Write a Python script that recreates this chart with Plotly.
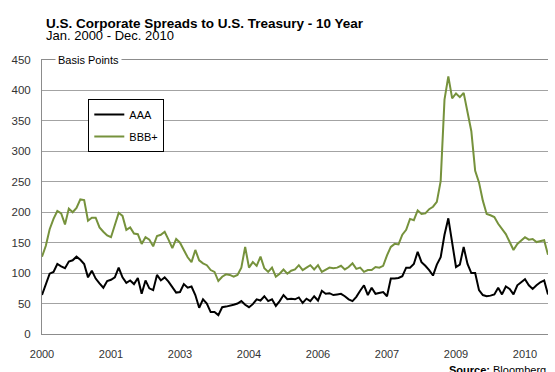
import plotly.graph_objects as go

# Chart text
title = "U.S. Corporate Spreads to U.S. Treasury - 10 Year"
subtitle = "Jan. 2000 - Dec. 2010"
unit_label = "Basis Points"
source_note = "<b>Source:</b> Bloomberg"

# X-axis labels, one every 18 monthly observations
tick_labels = ["2000", "2001", "2003", "2004", "2006", "2007", "2009", "2010"]
months_per_tick = 18

# Monthly spreads (basis points)
aaa = [
    64, 83, 99, 102, 115, 111, 108, 119, 121, 127, 122, 115, 93, 104, 91, 83,
    76, 87, 89, 93, 109, 93, 84, 88, 82, 92, 66, 88,
    75, 72, 97, 88, 93, 86, 77, 68, 69, 82, 76, 78, 64, 43, 57, 50, 36, 36,
    31, 44, 45, 46, 48, 50, 54, 48,
    44, 49, 57, 55, 62, 54, 57, 46, 54, 64, 57, 58, 57, 60, 51, 58, 54, 62,
    55, 71, 66, 67, 64, 65, 66, 62, 57,
    54, 61, 71, 80, 64, 76, 66, 67, 69, 62, 91, 91, 92, 95, 109, 109, 115,
    135, 118, 112, 105, 96, 114, 126,
    163, 190,
    151, 110, 114, 143, 115, 100, 100, 72, 64, 62, 63, 65, 76, 65, 78, 74,
    65, 80, 85, 90, 80, 74, 80, 85, 88, 65,
]
bbb = [
    127, 145, 172, 189, 202, 198, 180, 206, 200, 207, 221, 220, 186, 191,
    191, 175, 168, 162, 159, 178, 199, 194, 171, 175, 165, 164, 148, 159,
    155, 144, 161, 163, 168, 155, 141, 156, 150, 138, 126, 118, 138, 121,
    116, 113, 105, 102, 87, 94, 98, 97, 94, 97, 109, 143,
    109, 118, 112, 127, 108, 102, 109, 94, 99, 106, 99, 104, 106, 113, 105,
    109, 113, 106, 113, 102, 106, 109, 108, 109, 112, 106, 110,
    116, 107, 109, 102, 105, 105, 110, 109, 112, 129, 143, 148, 147, 163,
    171, 189, 187, 203, 197, 198, 205, 209, 217, 251,
    385, 423,
    387, 395, 389, 396, 366, 333, 268, 249, 219, 197, 195, 192, 181, 173,
    164, 151, 138, 148, 154, 159, 155, 156, 151, 153, 154, 130,
]

months = list(range(len(aaa)))
tick_positions = [i * months_per_tick for i in range(len(tick_labels))]

FONT = "Liberation Sans, Arial, sans-serif"
GRID = "#a3a3a3"
AXIS = "#8c8c8c"

fig = go.Figure()
fig.add_trace(go.Scatter(x=months, y=aaa, name="AAA", mode="lines",
                         legendgroup="aaa",
                         line=dict(color="#000000", width=2)))
fig.add_trace(go.Scatter(x=months, y=bbb, name="BBB+", mode="lines",
                         legendgroup="bbb",
                         line=dict(color="#76923C", width=2)))

fig.update_layout(
    width=555, height=372,
    margin=dict(l=42, r=7, t=60, b=38),
    paper_bgcolor="white", plot_bgcolor="white",
    font=dict(family=FONT, size=11, color="#333333"),
    showlegend=True,
    legend=dict(x=0.0915, y=0.858, xanchor="left", yanchor="top",
                bgcolor="white", bordercolor="#000000", borderwidth=1,
                font=dict(size=11, color="#000000"), itemwidth=30,
                tracegroupgap=3),
)

fig.update_xaxes(
    range=[0, len(aaa) - 1],
    tickvals=tick_positions, ticktext=tick_labels,
    showgrid=False, zeroline=False,
    showline=True, linecolor=AXIS, linewidth=1, mirror=True,
    ticks="", ticklabelstandoff=10,
    tickfont=dict(size=11, color="#333333"),
)
fig.update_yaxes(
    range=[0, 450], dtick=50,
    showgrid=True, gridcolor=GRID, gridwidth=1,
    zeroline=False,
    showline=True, linecolor=AXIS, linewidth=1,
    ticks="", ticklabelstandoff=8,
    tickfont=dict(size=11.5, color="#333333"),
)

fig.add_annotation(text="<b>" + title + "</b>", xref="paper", yref="paper",
                   x=0.004, y=(334 - 23.5) / 274, xanchor="left", yanchor="middle",
                   showarrow=False, font=dict(size=13.5, color="#000000"))
fig.add_annotation(text=subtitle, xref="paper", yref="paper",
                   x=0.004, y=(334 - 35.5) / 274, xanchor="left", yanchor="middle",
                   showarrow=False, font=dict(size=13, color="#000000"))
fig.add_annotation(text=unit_label, xref="paper", yref="y",
                   x=0.025, y=450, xanchor="left", yanchor="middle",
                   showarrow=False, bgcolor="white", borderpad=2,
                   font=dict(size=11, color="#000000"))
fig.add_annotation(text=source_note, xref="paper", yref="paper",
                   x=1.0, y=(334 - 370) / 274, xanchor="right", yanchor="middle",
                   showarrow=False, font=dict(size=11, color="#000000"))

fig.write_html("out.html")
